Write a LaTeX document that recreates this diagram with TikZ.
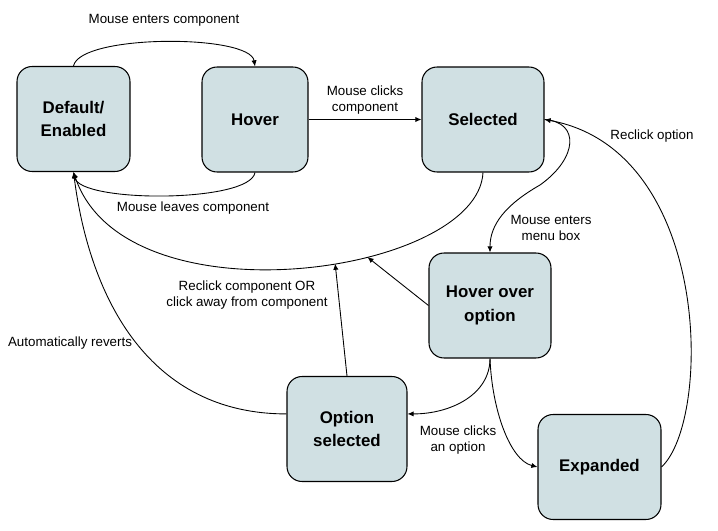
\documentclass[tikz,border=0pt]{standalone}
\usepackage{fontspec}
\setmainfont{Liberation Sans}
\usetikzlibrary{arrows.meta}
\definecolor{boxfill}{HTML}{D0E0E3}
\tikzset{
  state/.style={draw, line width=0.6pt, rounded corners=0.3cm, fill=boxfill, minimum height=2.1cm, align=center, font=\fontsize{9.6}{13.5}\selectfont\bfseries},
  link/.style={draw, line width=0.5pt, -{Latex[length=3.5pt,width=3pt]}},
  lbl/.style={align=center, font=\fontsize{7.6}{9.2}\selectfont, inner sep=0pt}
}
\begin{document}
\begin{tikzpicture}[x=0.02cm,y=0.02cm]
\useasboundingbox (0,0) rectangle (718,-531);
\node[state, minimum width=2.26cm] (def) at (73.5,-119) {Default/\\Enabled};
\node[state, minimum width=2.12cm] (hov) at (255,-119.5) {Hover};
\node[state, minimum width=2.44cm] (sel) at (483,-119.5) {Selected};
\node[state, minimum width=2.44cm] (hoo) at (490,-305.5) {Hover over\\option};
\node[state, minimum width=2.4cm] (opt) at (347,-429) {Option\\selected};
\node[state, minimum width=2.46cm] (exp) at (599.5,-467) {Expanded};

\path[link] (def.north) .. controls (80,-34) and (250,-34) .. (hov.north);
\path[link] (hov.south) .. controls (250,-203) and (80,-203) .. (def.south);
\path[link] (hov.east) -- (sel.west);
\path[link] (sel.south) .. controls (478,-275) and (125,-325) .. coordinate[pos=0.37] (jhoo) coordinate[pos=0.43] (jopt) (def.south);
\path[link] (hoo.west) -- (jhoo);
\path[link] (opt.north) -- (jopt);
\path[link] (opt.166) .. controls (150,-414) and (90,-300) .. (def.south);
\path[link] (sel.east) .. controls (580,-122) and (578,-158) .. (540,-185) .. controls (505,-205) and (490,-225) .. (hoo.north);
\path[link] (hoo.south) .. controls (490,-395) and (450,-414) .. (opt.14);
\path[link] (hoo.south) .. controls (492,-410) and (510,-460) .. (exp.west);
\path[link] (exp.east) .. controls (712,-420) and (712,-150) .. (sel.east);

\node[lbl] (lenter) at (164,-20) {Mouse enters component};
\node[lbl] (lleave) at (193,-208) {Mouse leaves component};
\node[lbl] (lclick) at (365,-100) {Mouse clicks\\component};
\node[lbl] (lreclick) at (247,-295) {Reclick component OR\\click away from component};
\node[lbl] (lauto) at (70,-343) {Automatically reverts};
\node[lbl] (lmenu) at (551,-228) {Mouse enters\\menu box};
\node[lbl] (loption) at (458,-440) {Mouse clicks\\an option};
\node[lbl] (lrecopt) at (652,-136) {Reclick option};
\end{tikzpicture}
\end{document}
